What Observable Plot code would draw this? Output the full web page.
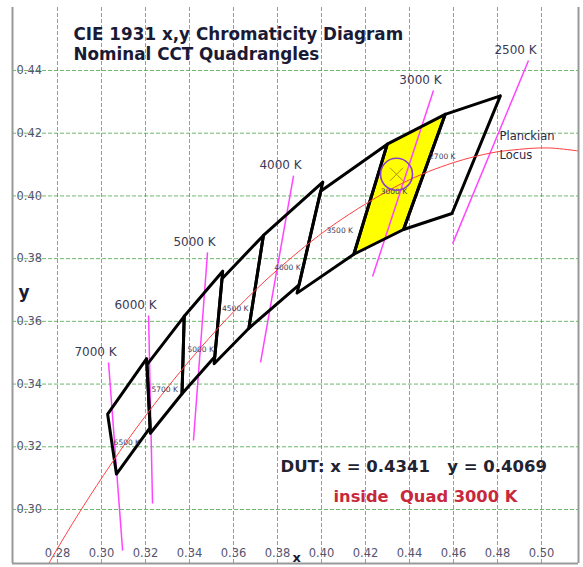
<!DOCTYPE html>
<html>
<head>
<meta charset="utf-8">
<script src="https://cdn.jsdelivr.net/npm/d3@7"></script>
<script src="https://cdn.jsdelivr.net/npm/@observablehq/plot@0.6"></script>
<style>
  html, body { margin: 0; padding: 0; background: #fff; }
  svg { display: block; }
</style>
</head>
<body>
<div id="chart"></div>
<script>
// ---- data ----
const xTicks = [0.28, 0.30, 0.32, 0.34, 0.36, 0.38, 0.40, 0.42, 0.44, 0.46, 0.48, 0.50];
const yTicks = [0.30, 0.32, 0.34, 0.36, 0.38, 0.40, 0.42, 0.44];

// Planckian locus (CCT, x, y)
const planckT = [2000, 2200, 2400, 2500, 2700, 3000, 3500, 4000, 4500, 5000, 5500, 6000, 6500, 7000, 8000, 9000, 10000, 12000];
const planckX = [0.5267, 0.5033, 0.4862, 0.4770, 0.4599, 0.4369, 0.4053, 0.3805, 0.3608, 0.3451, 0.3325, 0.3221, 0.3135, 0.3064, 0.2952, 0.2869, 0.2807, 0.2720];
const planckY = [0.4133, 0.4153, 0.4146, 0.4137, 0.4106, 0.4041, 0.3907, 0.3768, 0.3636, 0.3516, 0.3411, 0.3318, 0.3237, 0.3166, 0.3048, 0.2956, 0.2884, 0.2779];

// Nominal CCT quadrangles (corners in order)
const quadCCT = ["2700", "3000", "3500", "4000", "4500", "5000", "5700", "6500"];
const quadX = [
  [0.4813, 0.4562, 0.4373, 0.4593],
  [0.4562, 0.4299, 0.4147, 0.4373],
  [0.4299, 0.3996, 0.3889, 0.4147],
  [0.4006, 0.3736, 0.3670, 0.3898],
  [0.3736, 0.3548, 0.3512, 0.3670],
  [0.3551, 0.3376, 0.3366, 0.3515],
  [0.3376, 0.3207, 0.3222, 0.3366],
  [0.3205, 0.3028, 0.3068, 0.3221]
];
const quadY = [
  [0.4319, 0.4260, 0.3893, 0.3944],
  [0.4260, 0.4165, 0.3814, 0.3893],
  [0.4165, 0.4015, 0.3690, 0.3814],
  [0.4044, 0.3874, 0.3578, 0.3716],
  [0.3874, 0.3736, 0.3465, 0.3578],
  [0.3760, 0.3616, 0.3369, 0.3487],
  [0.3616, 0.3462, 0.3243, 0.3369],
  [0.3481, 0.3304, 0.3113, 0.3261]
];
// label position on the locus for each quad
const quadLabelX = [0.4549, 0.4329, 0.4083, 0.3845, 0.3608, 0.3451, 0.3287, 0.3115];
const quadLabelY = [0.4132, 0.4020, 0.3897, 0.3778, 0.3646, 0.3516, 0.3390, 0.3220];

// isotherm lines
const isoLabels = ["7000 K", "6000 K", "5000 K", "4000 K", "3000 K", "2500 K"];
const isoX1 = [0.3032, 0.3214, 0.3482, 0.3873, 0.4509, 0.4941];
const isoY1 = [0.3469, 0.3619, 0.3820, 0.4065, 0.4336, 0.4432];
const isoX2 = [0.3096, 0.3232, 0.3418, 0.3723, 0.4232, 0.4596];
const isoY2 = [0.2869, 0.3019, 0.3220, 0.3469, 0.3743, 0.3848];

// device under test
const dutX = 0.4341;
const dutY = 0.4069;
const dutQuad = "3000";

// ---- build tables ----
const locus = planckT.map((t, i) => ({t, x: planckX[i], y: planckY[i]}));
const quadPts = [];
quadCCT.forEach((c, i) => {
  for (let k = 0; k <= 4; k++) quadPts.push({cct: c, x: quadX[i][k % 4], y: quadY[i][k % 4]});
});
const quadLabels = quadCCT.map((c, i) => ({text: c + " K", x: quadLabelX[i], y: quadLabelY[i]}));
const isos = isoLabels.map((l, i) => ({label: l, x1: isoX1[i], y1: isoY1[i], x2: isoX2[i], y2: isoY2[i]}));
const dut = [{x: dutX, y: dutY}];
const fmt = d3.format(".2f");
const fmt4 = d3.format(".4f");
const nb = "\u00a0";

const xDom = [0.25955, 0.51682];
const yDom = [0.28278, 0.46009];

const F = "DejaVu Sans, Verdana, sans-serif";
const note = (txt, dx, dy, opts) => Plot.text([txt], Object.assign({frameAnchor: "top-left", textAnchor: "start", dx, dy, text: d => d}, opts));

const chart = Plot.plot({
  width: 583,
  height: 567,
  marginLeft: 12,
  marginRight: 5,
  marginTop: 7,
  marginBottom: 4,
  x: {domain: xDom, axis: null},
  y: {domain: yDom, axis: null},
  style: {fontFamily: F, background: "#fff"},
  marks: [
    Plot.ruleX(xTicks, {stroke: "#3fa03f", strokeWidth: 1, strokeDasharray: "4,2", strokeOpacity: 0.75}),
    Plot.ruleY(yTicks, {stroke: "#3fa03f", strokeWidth: 1, strokeDasharray: "4,2", strokeOpacity: 0.75}),
    // tick labels
    Plot.text(xTicks, {x: d => d, frameAnchor: "bottom", dy: -10, text: d => fmt(d), fill: "#55556e", fontSize: 11.5, lineAnchor: "middle"}),
    Plot.text(yTicks, {y: d => d, frameAnchor: "left", dx: 4, textAnchor: "start", text: d => fmt(d), fill: "#55556e", fontSize: 11.5}),
    // highlighted quad
    Plot.line(quadPts.filter(d => d.cct === dutQuad), {x: "x", y: "y", fill: "#ffff00", stroke: "none"}),
    // isotherms
    Plot.link(isos, {x1: "x1", y1: "y1", x2: "x2", y2: "y2", stroke: "#ff44ff", strokeWidth: 1.5}),
    Plot.text(isos, {x: "x1", y: "y1", text: "label", dx: -13, dy: -10, fill: "#3a3a55", fontSize: 12}),
    // quad outlines
    Plot.line(quadPts, {x: "x", y: "y", z: "cct", stroke: "#000", strokeWidth: 3, strokeLinejoin: "round", strokeLinecap: "round"}),
    // Planckian locus
    Plot.line(locus, {x: "x", y: "y", stroke: "#ff4040", strokeWidth: 1, curve: "catmull-rom", clip: true}),
    Plot.text(quadLabels, {x: "x", y: "y", text: "text", dy: 2, fill: "#3a3a60", fontSize: 7.5}),
    // DUT
    Plot.dot(dut, {x: "x", y: "y", symbol: "times", r: 6, stroke: "#b08a20", strokeWidth: 1}),
    Plot.dot(dut, {x: "x", y: "y", r: 16, stroke: "#8a40c8", strokeWidth: 1.6, fill: "none"}),
    // frame
    Plot.ruleX([xDom[0]], {stroke: "#999", strokeWidth: 2}),
    Plot.ruleX([xDom[1]], {stroke: "#999", strokeWidth: 2}),
    Plot.ruleY([yDom[0]], {stroke: "#999", strokeWidth: 2}),
    // titles and notes
    note("CIE 1931 x,y Chromaticity Diagram", 61, 21, {fontSize: 16.8, fontWeight: "bold", fill: "#1a1a35"}),
    note("Nominal CCT Quadrangles", 61, 41, {fontSize: 16.8, fontWeight: "bold", fill: "#1a1a35"}),
    note("Planckian", 487, 124, {fontSize: 11.5, fill: "#2a2a45"}),
    note("Locus", 487, 143, {fontSize: 11.5, fill: "#2a2a45"}),
    note(`DUT: x = ${fmt4(dutX)}${nb}${nb}${nb}y = ${fmt4(dutY)}`, 268, 453, {fontSize: 16.5, fontWeight: "bold", fill: "#222230"}),
    note(`inside${nb}${nb}Quad ${dutQuad} K`, 321, 483, {fontSize: 16.3, fontWeight: "bold", fill: "#c8283c"}),
    note("y", 6, 278, {fontSize: 17, fontWeight: "bold", fill: "#1a1a35"}),
    note("x", 280, 545, {fontSize: 13, fontWeight: "bold", fill: "#1a1a35"})
  ]
});

document.getElementById("chart").appendChild(chart);
</script>
</body>
</html>
